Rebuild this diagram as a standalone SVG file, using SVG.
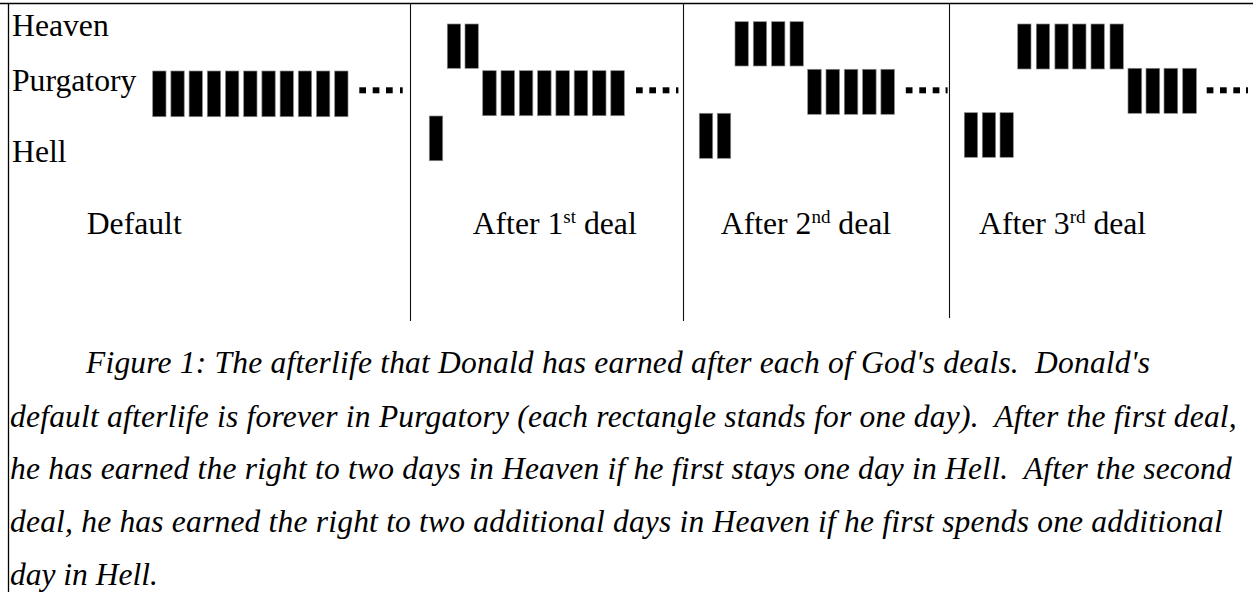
<svg xmlns="http://www.w3.org/2000/svg" width="1253" height="592" viewBox="0 0 1253 592">
<style>
  .frame { stroke: #000; stroke-width: 1.3; fill: none; }
  .div { stroke: #111; stroke-width: 1.1; fill: none; }
  .bar { fill: #000; stroke: #888; stroke-width: 0.7; }
  .dot { fill: #000; }
  .lbl { font-family: "Liberation Serif", "Times New Roman", serif; font-size: 31.7px; fill: #000; }
  .cap { font-family: "Liberation Serif", "Times New Roman", serif; font-size: 31.5px; font-style: italic; fill: #000; white-space: pre; }
</style>
<rect width="1253" height="592" fill="#fff"/>
<g id="frame">
  <line class="frame" x1="0" y1="3.5" x2="1253" y2="3.5"/>
  <line class="frame" x1="8.5" y1="3" x2="8.5" y2="592"/>
  <line class="div" x1="410.5" y1="3" x2="410.5" y2="321"/>
  <line class="div" x1="683.5" y1="3" x2="683.5" y2="321"/>
  <line class="div" x1="949.5" y1="3" x2="949.5" y2="318"/>
</g>
<g id="row-labels">
  <text class="lbl" x="12" y="36">Heaven</text>
  <text class="lbl" x="12" y="90.5">Purgatory</text>
  <text class="lbl" x="12" y="162.3">Hell</text>
</g>
<g id="panel-default">
  <g>
    <rect class="bar" x="152.7" y="71" width="13.3" height="45.7"/>
    <rect class="bar" x="170.9" y="71" width="13.3" height="45.7"/>
    <rect class="bar" x="189.1" y="71" width="13.3" height="45.7"/>
    <rect class="bar" x="207.3" y="71" width="13.3" height="45.7"/>
    <rect class="bar" x="225.5" y="71" width="13.3" height="45.7"/>
    <rect class="bar" x="243.7" y="71" width="13.3" height="45.7"/>
    <rect class="bar" x="261.9" y="71" width="13.3" height="45.7"/>
    <rect class="bar" x="280.1" y="71" width="13.3" height="45.7"/>
    <rect class="bar" x="298.3" y="71" width="13.3" height="45.7"/>
    <rect class="bar" x="316.5" y="71" width="13.3" height="45.7"/>
    <rect class="bar" x="334.7" y="71" width="13.3" height="45.7"/>
  </g>
  <rect class="dot" x="359.3" y="87.3" width="6.7" height="6"/>
  <rect class="dot" x="372.7" y="87.3" width="6.7" height="6"/>
  <rect class="dot" x="386" y="87.3" width="6.7" height="6"/>
  <rect class="dot" x="400" y="87.3" width="2.7" height="6"/>
  <text class="lbl" x="86.7" y="234">Default</text>
</g>
<g id="panel-deal1">
  <rect class="bar" x="447.3" y="24" width="13.3" height="44.3"/>
  <rect class="bar" x="465" y="24" width="13.3" height="44.3"/>
  <rect class="bar" x="482.7" y="70.7" width="13.5" height="45"/>
  <rect class="bar" x="501" y="70.7" width="13.5" height="45"/>
  <rect class="bar" x="519.3" y="70.7" width="13.5" height="45"/>
  <rect class="bar" x="537.6" y="70.7" width="13.5" height="45"/>
  <rect class="bar" x="555.9" y="70.7" width="13.5" height="45"/>
  <rect class="bar" x="574.2" y="70.7" width="13.5" height="45"/>
  <rect class="bar" x="592.5" y="70.7" width="13.5" height="45"/>
  <rect class="bar" x="610.8" y="70.7" width="13.5" height="45"/>
  <rect class="bar" x="429.3" y="116" width="13.4" height="44.7"/>
  <rect class="dot" x="636" y="87.3" width="6.7" height="6"/>
  <rect class="dot" x="649.3" y="87.3" width="6.7" height="6"/>
  <rect class="dot" x="662.7" y="87.3" width="6.7" height="6"/>
  <rect class="dot" x="676" y="87.3" width="2.4" height="6"/>
  <text class="lbl" x="472.7" y="234.3">After 1<tspan font-size="19" dy="-11">st</tspan><tspan dy="11"> deal</tspan></text>
</g>
<g id="panel-deal2">
  <rect class="bar" x="735" y="21.7" width="13.3" height="44.3"/>
  <rect class="bar" x="753.3" y="21.7" width="13.3" height="44.3"/>
  <rect class="bar" x="771.6" y="21.7" width="13.3" height="44.3"/>
  <rect class="bar" x="790" y="21.7" width="13.3" height="44.3"/>
  <rect class="bar" x="807.7" y="69.3" width="13.5" height="45"/>
  <rect class="bar" x="826" y="69.3" width="13.5" height="45"/>
  <rect class="bar" x="844.3" y="69.3" width="13.5" height="45"/>
  <rect class="bar" x="862.6" y="69.3" width="13.5" height="45"/>
  <rect class="bar" x="880.9" y="69.3" width="13.5" height="45"/>
  <rect class="bar" x="699.3" y="113.3" width="13.4" height="45"/>
  <rect class="bar" x="717.3" y="113.3" width="13.4" height="45"/>
  <rect class="dot" x="905.8" y="87.3" width="6.7" height="6"/>
  <rect class="dot" x="919.3" y="87.3" width="6.7" height="6"/>
  <rect class="dot" x="932.7" y="87.3" width="6.7" height="6"/>
  <rect class="dot" x="945.6" y="87.3" width="2" height="6"/>
  <text class="lbl" x="720.8" y="234">After 2<tspan font-size="19" dy="-11">nd</tspan><tspan dy="11"> deal</tspan></text>
</g>
<g id="panel-deal3">
  <rect class="bar" x="1017.7" y="24" width="13.3" height="45"/>
  <rect class="bar" x="1036.3" y="24" width="13.3" height="45"/>
  <rect class="bar" x="1054.9" y="24" width="13.3" height="45"/>
  <rect class="bar" x="1072.7" y="24" width="13.3" height="45"/>
  <rect class="bar" x="1091" y="24" width="13.3" height="45"/>
  <rect class="bar" x="1110" y="24" width="13.3" height="45"/>
  <rect class="bar" x="1128" y="68.3" width="13.7" height="45"/>
  <rect class="bar" x="1146" y="68.3" width="13.7" height="45"/>
  <rect class="bar" x="1164" y="68.3" width="13.7" height="45"/>
  <rect class="bar" x="1182.7" y="68.3" width="13.7" height="45"/>
  <rect class="bar" x="964.3" y="112.7" width="13.3" height="44.6"/>
  <rect class="bar" x="982.3" y="112.7" width="13.3" height="44.6"/>
  <rect class="bar" x="1000" y="112.7" width="13.3" height="44.6"/>
  <rect class="dot" x="1206.7" y="87.3" width="6.7" height="6"/>
  <rect class="dot" x="1220" y="87.3" width="6.7" height="6"/>
  <rect class="dot" x="1233.3" y="87.3" width="6.7" height="6"/>
  <rect class="dot" x="1246" y="87.3" width="2" height="6"/>
  <text class="lbl" x="979" y="234">After 3<tspan font-size="19" dy="-11">rd</tspan><tspan dy="11"> deal</tspan></text>
</g>
<g id="caption">
  <text class="cap" x="86" y="373" textLength="1064" lengthAdjust="spacing">Figure 1: The afterlife that Donald has earned after each of God's deals.&#160; Donald's</text>
  <text class="cap" x="10" y="426.7" textLength="1226.7" lengthAdjust="spacing">default afterlife is forever in Purgatory (each rectangle stands for one day).&#160; After the first deal,</text>
  <text class="cap" x="10" y="479.3" textLength="1221.7" lengthAdjust="spacing">he has earned the right to two days in Heaven if he first stays one day in Hell.&#160; After the second</text>
  <text class="cap" x="10" y="531.7" textLength="1212.7" lengthAdjust="spacing">deal, he has earned the right to two additional days in Heaven if he first spends one additional</text>
  <text class="cap" x="10" y="585">day in Hell.</text>
</g>
</svg>
